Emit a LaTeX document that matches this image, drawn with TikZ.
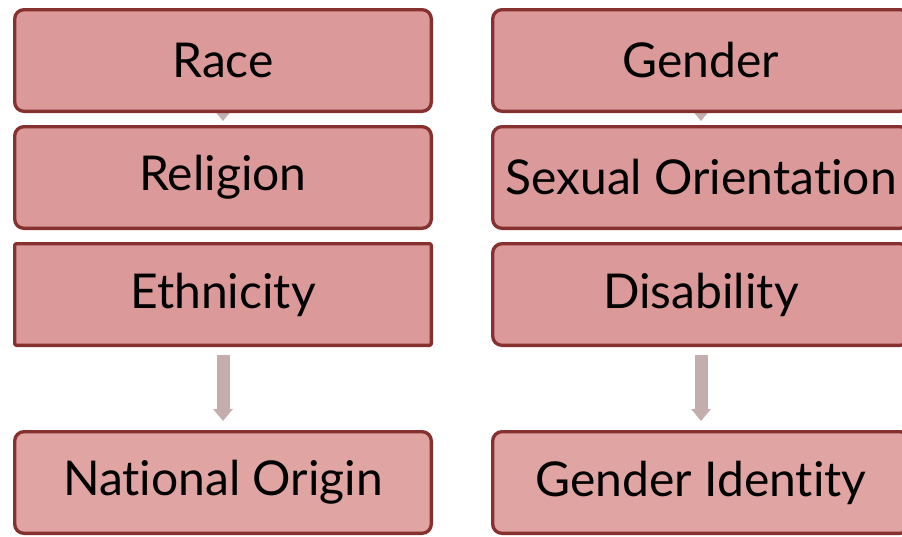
\documentclass[tikz,border=0pt]{standalone}
\usepackage{fontspec}
\setmainfont{Lato}[Ligatures=NoCommon]
\usepackage{tikz}
\usetikzlibrary{arrows.meta,positioning,backgrounds}
\definecolor{boxfill}{HTML}{DB9A99}
\definecolor{boxfilllight}{HTML}{E0A4A3}
\definecolor{boxline}{HTML}{86302F}
\definecolor{flowgray}{HTML}{C4ADAD}

\begin{document}
\begin{tikzpicture}[x=0.75pt, y=-0.75pt, node distance = 9pt, auto]
        \tikzset{main node/.style={rectangle, rounded corners=7pt, draw=boxline, fill=boxfill,
                    line width=2.5pt, minimum width=312.5pt, minimum height=76.25pt,
                    inner sep=0pt, font=\fontsize{36}{43}\selectfont}}
        \tikzset{flat node/.style={main node, rounded corners=1.5pt}}
        \tikzset{light node/.style={main node, fill=boxfilllight}}
        \tikzset{flow/.style={draw=flowgray, line width=9.75pt,
                    -{Triangle[width=14.25pt, length=9pt]}}}

        \path[use as bounding box, clip] (0,0) rectangle (902,536);

        % Nodes
        \node (race) [main node] at (223,60.5) {Race};
        \node (religion) [below=of race, main node] {Religion};
        \node (ethnicity) [below=of religion, flat node] {Ethnicity};
        \node (origin) [below=62.25pt of ethnicity, light node] {National Origin};

        \node (gender) [right=43.5pt of race, main node] {Gender};
        \node (orientation) [below=of gender, main node] {Sexual Orientation};
        \node (disability) [below=of orientation, main node] {Disability};
        \node (identity) [below=62.25pt of disability, light node] {Gender Identity};

        % Arrows
        \begin{pgfonlayer}{background}
        \draw [flow, shorten >=3pt] (race) to (religion);
        \draw [flow, shorten >=3pt] (gender) to (orientation);
        \draw [flow, shorten <=6pt, shorten >=6.75pt] (ethnicity) to (origin);
        \draw [flow, shorten <=6pt, shorten >=6.75pt] (disability) to (identity);
        \end{pgfonlayer}
    \end{tikzpicture}
\end{document}
